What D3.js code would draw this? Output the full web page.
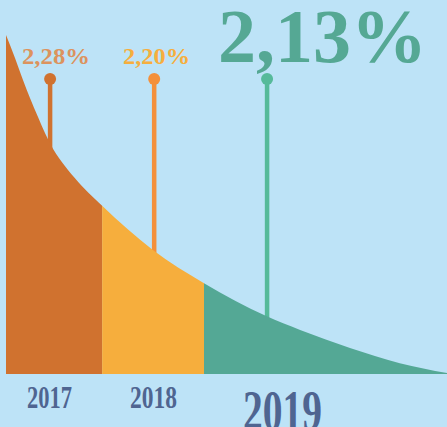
<!DOCTYPE html>
<html>
<head>
<meta charset="utf-8">
<script src="https://cdn.jsdelivr.net/npm/d3@7"></script>
<style>
html,body{margin:0;padding:0;background:#bde3f7;}
svg{display:block;}
</style>
</head>
<body>
<svg id="chart" width="447" height="427"></svg>
<script>
// ---- data ----
const years = ["2017", "2018", "2019"];
const rates = ["2,28%", "2,20%", "2,13%"];
// segment boundaries along the curve (0..100 scale)
const bounds = [0, 21.8, 44.9, 100];
// stem positions (0..100 scale) and dot height
const stemPos = [10, 33.6, 59.2];
const stemTop = 87;
// decay curve: [position, value]
const curveT = [0, 2.04, 3.85, 5.44, 7.26, 8.84, 9.98, 15.6, 21.8, 33.3, 44.9, 59.0, 66.7, 78.0, 89.3, 100];
const curveV = [100, 93.2, 86.7, 81.4, 75.8, 71.1, 68.1, 57.8, 49.6, 36.6, 26.8, 17.1, 13.0, 7.7, 3.2, 0.3];

const areaColors = ["#d0722f", "#f6ae3d", "#54a895"];
const stemColors = ["#d0722f", "#f4903a", "#56ba9a"];
const rateColors = ["#dc935e", "#f6ae3e", "#55a894"];
const yearColor = "#4f6591";

const svg = d3.select("#chart");
svg.append("rect").attr("width", 447).attr("height", 427).attr("fill", "#bde3f7");

const x = d3.scaleLinear().domain([0, 100]).range([6, 447]);
const y = d3.scaleLinear().domain([0, 100]).range([374, 35]);

const pts = curveT.map((t, i) => [t, curveV[i]]);

// stems
years.forEach((yr, i) => {
  svg.append("line")
    .attr("x1", x(stemPos[i])).attr("x2", x(stemPos[i]))
    .attr("y1", y(stemTop)).attr("y2", y(0))
    .attr("stroke", stemColors[i]).attr("stroke-width", 4.5);
  svg.append("circle")
    .attr("cx", x(stemPos[i])).attr("cy", y(stemTop)).attr("r", 6)
    .attr("fill", stemColors[i]);
});

// clipped areas
const area = d3.area()
  .x(d => x(d[0])).y0(y(0)).y1(d => y(d[1]))
  .curve(d3.curveMonotoneX);
const defs = svg.append("defs");
years.forEach((yr, i) => {
  defs.append("clipPath").attr("id", "clip" + i)
    .append("rect")
    .attr("x", x(bounds[i])).attr("y", 0)
    .attr("width", x(bounds[i + 1]) - x(bounds[i]))
    .attr("height", 427);
  svg.append("path").datum(pts)
    .attr("d", area)
    .attr("fill", areaColors[i])
    .attr("clip-path", "url(#clip" + i + ")");
});

// rate labels
const rateSpecs = [
  {cx: 56, base: 64, size: 23, len: 68},
  {cx: 156.5, base: 64, size: 23, len: 67},
  {cx: 322.5, base: 62, size: 77, len: 209}
];
rates.forEach((r, i) => {
  const s = rateSpecs[i];
  svg.append("text")
    .attr("x", s.cx - s.len / 2).attr("y", s.base)
    .attr("font-family", "'Liberation Serif', serif")
    .attr("font-weight", "bold")
    .attr("font-size", s.size)
    .attr("textLength", s.len).attr("lengthAdjust", "spacingAndGlyphs")
    .attr("fill", rateColors[i])
    .text(r);
});

// year labels
const yearSpecs = [
  {cx: 49.5, base: 408, size: 31, len: 45},
  {cx: 153.5, base: 408, size: 31, len: 47},
  {cx: 282.5, base: 430, size: 56, len: 79}
];
years.forEach((yr, i) => {
  const s = yearSpecs[i];
  svg.append("text")
    .attr("x", s.cx - s.len / 2).attr("y", s.base)
    .attr("font-family", "'Liberation Serif', serif")
    .attr("font-weight", "bold")
    .attr("font-size", s.size)
    .attr("textLength", s.len).attr("lengthAdjust", "spacingAndGlyphs")
    .attr("fill", yearColor)
    .text(yr);
});
</script>
</body>
</html>
